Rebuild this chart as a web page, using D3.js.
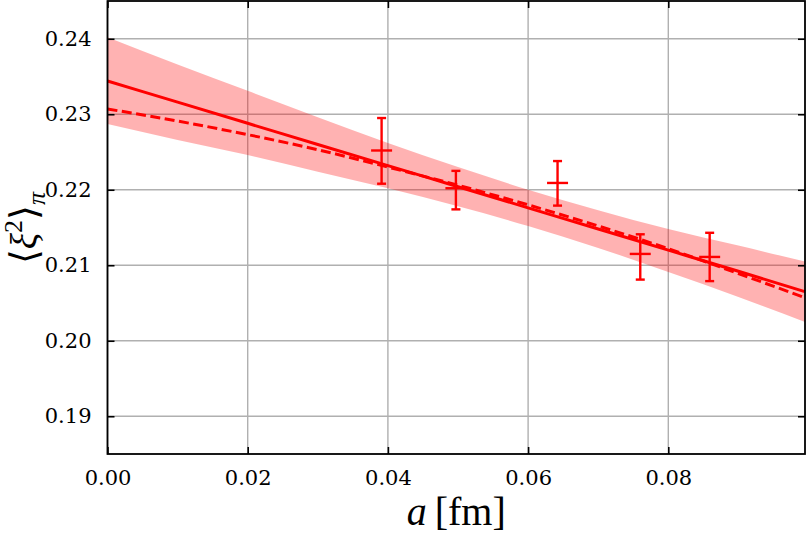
<!DOCTYPE html>
<html>
<head>
<meta charset="utf-8">
<script src="https://cdn.jsdelivr.net/npm/d3@7"></script>
<style>
    body { margin: 0; background: #fff; }
    .tick text { font-family: "DejaVu Serif", "Liberation Serif", "Times New Roman", serif; font-size: 21px; fill: #000; }
    .axis-title { font-family: "Liberation Serif", "Times New Roman", "DejaVu Serif", serif; fill: #000; }
</style>
</head>
<body>
<div id="chart"></div>
<script>
// lattice data points
let spacing = [0.0391, 0.0497, 0.0642, 0.0760, 0.0859];
let moment = [0.2252, 0.2202, 0.2209, 0.2115, 0.2111];
let errUp = [0.0043, 0.0023, 0.0029, 0.0026, 0.0032];
let errDown = [0.0044, 0.0028, 0.0030, 0.0034, 0.0032];

// fit curves
let fitA = [0, 0.01, 0.02, 0.03, 0.04, 0.05, 0.06, 0.07, 0.08, 0.09, 0.0995];
let fitSolid = [0.2344, 0.2316, 0.2288, 0.2260, 0.2232, 0.2204, 0.2176, 0.2148, 0.2120, 0.2092, 0.2065];
let fitDashed = [0.2307, 0.2291, 0.2273, 0.2253, 0.2230, 0.2206, 0.2180, 0.2152, 0.2122, 0.2089, 0.2057];
let bandTop = [0.2402, 0.2366, 0.2331, 0.2296, 0.2262, 0.2230, 0.2200, 0.2173, 0.2148, 0.2126, 0.2105];
let bandBottom = [0.2287, 0.2266, 0.2246, 0.2224, 0.2202, 0.2178, 0.2152, 0.2123, 0.2091, 0.2058, 0.2025];

let xTicks = [0, 0.02, 0.04, 0.06, 0.08];
let yTicks = [0.19, 0.20, 0.21, 0.22, 0.23, 0.24];

let width = 807;
let height = 535;
let plotLeft = 107.5, plotRight = 805, plotTop = 1, plotBottom = 454;

let svg = d3.select("#chart")
    .append("svg")
    .attr("width", width)
    .attr("height", height);

let x = d3.scaleLinear()
    .domain([0, 0.0995])
    .range([plotLeft, plotRight]);

let y = d3.scaleLinear()
    .domain([0.185, 0.245])
    .range([plotBottom, plotTop]);

// grid
svg.append("g")
    .selectAll("line")
    .data(xTicks)
    .enter()
    .append("line")
    .attr("x1", d => x(d)).attr("x2", d => x(d))
    .attr("y1", plotTop).attr("y2", plotBottom)
    .attr("stroke", "#b0b0b0")
    .attr("stroke-width", 1.4);

svg.append("g")
    .selectAll("line")
    .data(yTicks)
    .enter()
    .append("line")
    .attr("x1", plotLeft).attr("x2", plotRight)
    .attr("y1", d => y(d)).attr("y2", d => y(d))
    .attr("stroke", "#b0b0b0")
    .attr("stroke-width", 1.4);

// fit band and lines
let band = fitA.map((a, i) => ({a: a, lo: bandBottom[i], hi: bandTop[i]}));

let area = d3.area()
    .x(d => x(d.a))
    .y0(d => y(d.lo))
    .y1(d => y(d.hi))
    .curve(d3.curveMonotoneX);

svg.append("path")
    .datum(band)
    .attr("d", area)
    .attr("fill", "red")
    .attr("fill-opacity", 0.3);

let line = d3.line()
    .x(d => x(d[0]))
    .y(d => y(d[1]))
    .curve(d3.curveMonotoneX);

svg.append("path")
    .datum(fitA.map((a, i) => [a, fitSolid[i]]))
    .attr("d", line)
    .attr("fill", "none")
    .attr("stroke", "red")
    .attr("stroke-width", 3);

svg.append("path")
    .datum(fitA.map((a, i) => [a, fitDashed[i]]))
    .attr("d", line)
    .attr("fill", "none")
    .attr("stroke", "red")
    .attr("stroke-width", 3)
    .attr("stroke-dasharray", "10,4.5");

// error bars
let points = spacing.map((a, i) => ({a: a, v: moment[i], up: errUp[i], down: errDown[i]}));

let bars = svg.append("g")
    .selectAll("g")
    .data(points)
    .enter()
    .append("g")
    .attr("stroke", "red")
    .attr("stroke-width", 2.4);

bars.append("line")
    .attr("x1", d => x(d.a)).attr("x2", d => x(d.a))
    .attr("y1", d => y(d.v + d.up)).attr("y2", d => y(d.v - d.down));

bars.append("line")
    .attr("x1", d => x(d.a) - 4.5).attr("x2", d => x(d.a) + 4.5)
    .attr("y1", d => y(d.v + d.up)).attr("y2", d => y(d.v + d.up));

bars.append("line")
    .attr("x1", d => x(d.a) - 4.5).attr("x2", d => x(d.a) + 4.5)
    .attr("y1", d => y(d.v - d.down)).attr("y2", d => y(d.v - d.down));

bars.append("line")
    .attr("x1", d => x(d.a) - 10.5).attr("x2", d => x(d.a) + 10.5)
    .attr("y1", d => y(d.v)).attr("y2", d => y(d.v));

// axes, ticks inward on all four sides
let xAxis = d3.axisBottom(x).tickValues(xTicks).tickFormat(d3.format(".2f"))
    .tickSizeInner(-7).tickSizeOuter(0).tickPadding(16);
let yAxis = d3.axisLeft(y).tickValues(yTicks).tickFormat(d3.format(".2f"))
    .tickSizeInner(-7).tickSizeOuter(0).tickPadding(16);

svg.append("g")
    .attr("class", "axis x-axis")
    .attr("transform", "translate(0," + plotBottom + ")")
    .call(xAxis);

svg.append("g")
    .attr("class", "axis y-axis")
    .attr("transform", "translate(" + plotLeft + ",0)")
    .call(yAxis);

svg.append("g")
    .attr("transform", "translate(0," + plotTop + ")")
    .call(d3.axisTop(x).tickValues(xTicks).tickFormat("").tickSizeInner(-7).tickSizeOuter(0));

svg.append("g")
    .attr("transform", "translate(" + plotRight + ",0)")
    .call(d3.axisRight(y).tickValues(yTicks).tickFormat("").tickSizeInner(-7).tickSizeOuter(0));

svg.selectAll(".domain").remove();
svg.selectAll(".tick line").attr("stroke", "#000").attr("stroke-width", 1.6);

svg.append("rect")
    .attr("x", plotLeft)
    .attr("y", plotTop)
    .attr("width", plotRight - plotLeft)
    .attr("height", plotBottom - plotTop)
    .attr("fill", "none")
    .attr("stroke", "#000")
    .attr("stroke-width", 1.8);

// axis titles
let xTitle = svg.append("text")
    .attr("class", "axis-title")
    .attr("text-anchor", "middle")
    .attr("x", (plotLeft + plotRight) / 2)
    .attr("y", 525)
    .attr("font-size", 40);
xTitle.append("tspan").attr("font-style", "italic").text("a");
xTitle.append("tspan").text("\u2009[fm]");

let yTitle = svg.append("text")
    .attr("class", "axis-title")
    .attr("text-anchor", "middle")
    .attr("transform", "translate(37,228) rotate(-90)")
    .attr("font-size", 38);
yTitle.append("tspan").text("\u27E8");
yTitle.append("tspan").attr("font-style", "italic").text("\u03BE");
yTitle.append("tspan").attr("font-size", 26).attr("dy", -15).text("2");
yTitle.append("tspan").attr("dy", 15).text("\u27E9");
yTitle.append("tspan").attr("font-size", 26).attr("font-style", "italic").attr("dy", 8).text("\u03C0");
</script>
</body>
</html>
